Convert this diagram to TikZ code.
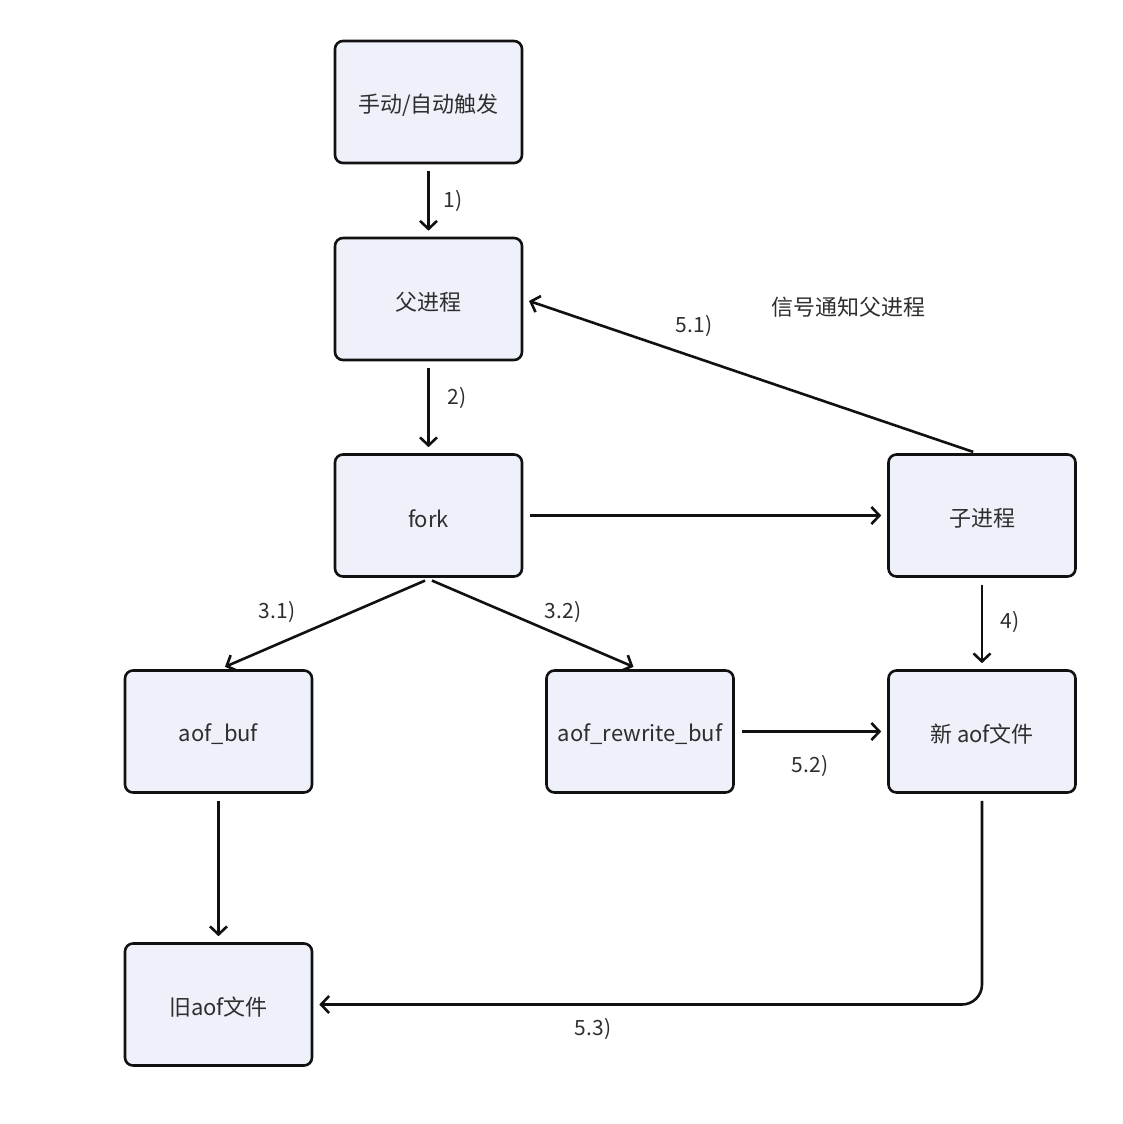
\documentclass[tikz,border=0pt]{standalone}
\usepackage{fontspec}
\setmainfont{Noto Sans CJK SC}
\usetikzlibrary{arrows.meta}
\definecolor{boxfill}{HTML}{EFF1FA}
\definecolor{txt}{HTML}{2E2E2E}
\definecolor{ln}{HTML}{111111}
\newcommand{\boxtxt}[1]{\raisebox{-3pt}[\height][\depth]{#1}}
\begin{document}
\begin{tikzpicture}[x=1pt,y=-1pt,
  box/.style={draw=ln,line width=2.6pt,fill=boxfill,rounded corners=8pt,
    minimum width=187pt,minimum height=122pt,inner sep=0pt,
    font=\fontsize{22}{26}\selectfont,text=txt},
  arr/.style={draw=ln,line width=2.6pt,-{Straight Barb[length=8pt,width=17pt]},
    shorten <=7pt,shorten >=6pt},
  lbl/.style={font=\fontsize{21}{25}\selectfont,text=txt,inner sep=0pt}]
\useasboundingbox (0,0) rectangle (1122,1124);
\node[box] (A) at (428.5,102) {\boxtxt{手动/自动触发}};
\node[box] (B) at (428.5,299) {\boxtxt{父进程}};
\node[box] (C) at (428.5,515.5) {\boxtxt{fork}};
\node[box] (D) at (982,515.5) {\boxtxt{子进程}};
\node[box] (E) at (218.5,731.5) {\boxtxt{aof\_buf}};
\node[box] (F) at (640,731.5) {\boxtxt{aof\_rewrite\_buf}};
\node[box] (G) at (982,731.5) {\boxtxt{新 aof文件}};
\node[box] (H) at (218.5,1004.5) {\boxtxt{旧aof文件}};
\draw[arr] (A) -- (B);
\draw[arr] (B) -- (C);
\draw[arr] (C) -- (D);
\draw[arr] ([xshift=3pt]C.south) -- ([xshift=1pt]E.north);
\draw[arr] ([xshift=-3pt]C.south) -- ([xshift=-1pt]F.north);
\draw[arr,shorten <=4pt] ([xshift=-5pt]D.north) -- (B.east);
\draw[arr] (D) -- (G);
\draw[arr] (F) -- (G);
\draw[arr] (E) -- (H);
\draw[arr,rounded corners=20pt] (G.south) |- (H.east);
\node[lbl] (l1) at (453,201) {1)};
\node[lbl] (l2) at (457,398) {2)};
\node[lbl] (l31) at (277,612) {3.1)};
\node[lbl] (l32) at (563,612) {3.2)};
\node[lbl] (l4) at (1010,622) {4)};
\node[lbl] (l51) at (694,326) {5.1)};
\node[lbl,font=\fontsize{22}{26}\selectfont] (sig) at (848,307) {信号通知父进程};
\node[lbl] (l52) at (810,766) {5.2)};
\node[lbl] (l53) at (593,1029) {5.3)};
\end{tikzpicture}
\end{document}
